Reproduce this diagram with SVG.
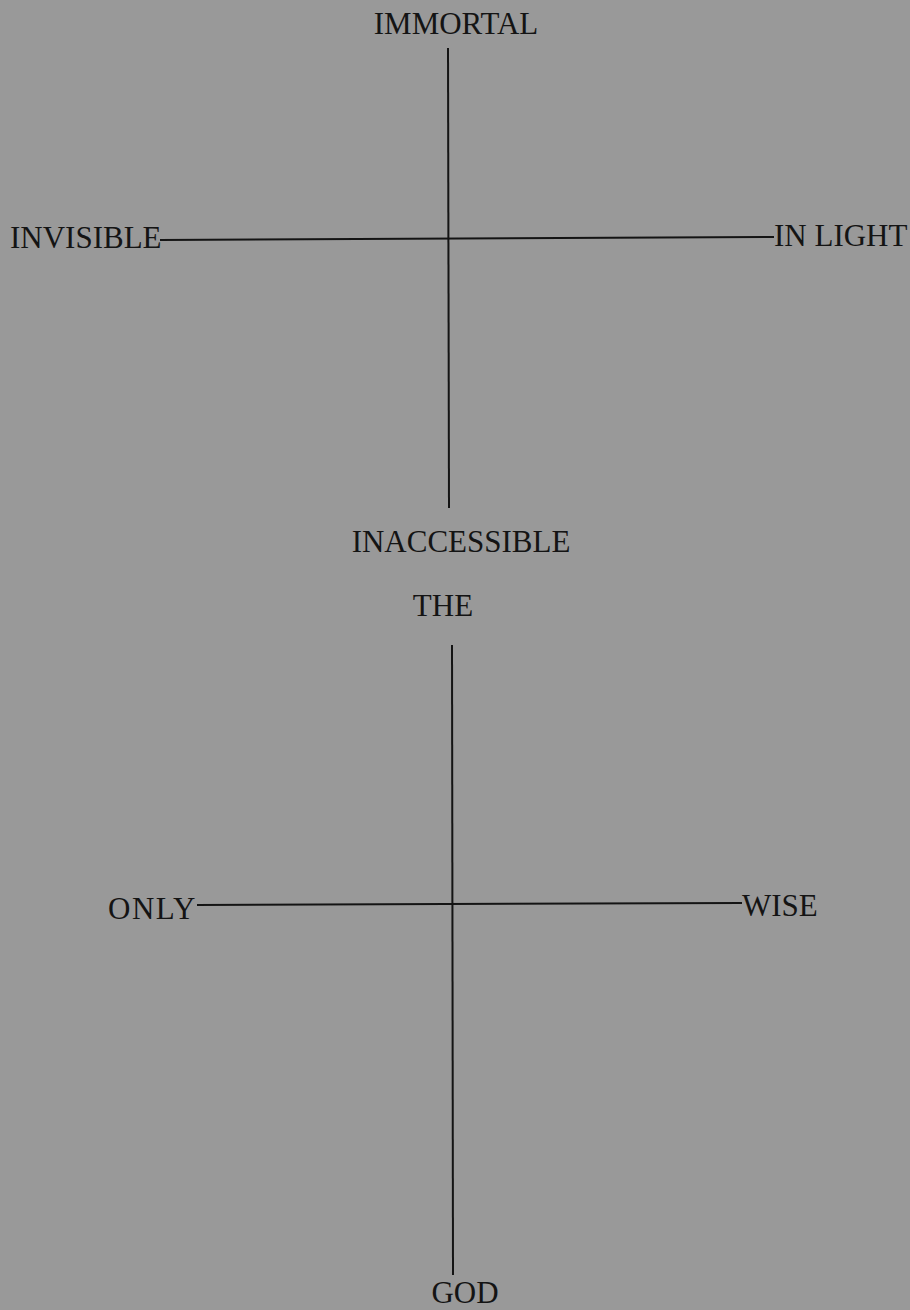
<svg xmlns="http://www.w3.org/2000/svg" width="910" height="1310" viewBox="0 0 910 1310">
<style>
text{font-family:"Liberation Serif","Times New Roman",serif;font-size:31px;fill:#141414}
.l{stroke:#141414;stroke-width:2;fill:none}
</style>
<rect width="910" height="1310" fill="#999999"/>
<g id="connectors">
<line class="l" x1="448" y1="48" x2="449" y2="508"/>
<line class="l" x1="160" y1="240" x2="774" y2="237"/>
<line class="l" x1="452" y1="645" x2="453" y2="1275"/>
<line class="l" x1="197" y1="905" x2="742" y2="903"/>
</g>
<g id="immortal"><text x="456" y="34" text-anchor="middle">IMMORTAL</text></g>
<g id="invisible"><text x="10" y="248">INVISIBLE</text></g>
<g id="inlight"><text x="774" y="246">IN LIGHT</text></g>
<g id="inaccessible"><text x="461" y="552" text-anchor="middle">INACCESSIBLE</text></g>
<g id="the"><text x="443" y="616" text-anchor="middle">THE</text></g>
<g id="only"><text x="108" y="919" letter-spacing="1.5">ONLY</text></g>
<g id="wise"><text x="742" y="916">WISE</text></g>
<g id="god"><text x="465" y="1303" text-anchor="middle">GOD</text></g>
</svg>
